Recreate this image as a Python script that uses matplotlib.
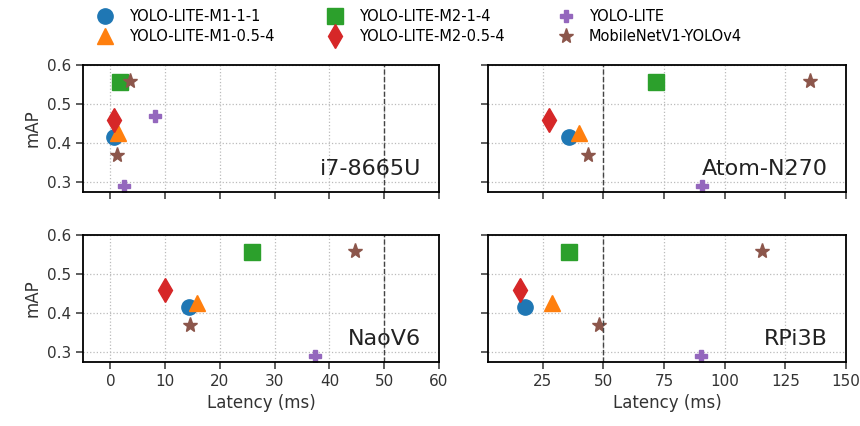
import numpy as np
import matplotlib
matplotlib.use("Agg")
import matplotlib.pyplot as plt

# -----------------------
# Data (latency in ms, mAP)
# -----------------------
models = ["YOLO-LITE-M1-1-1", "YOLO-LITE-M1-0.5-4", "YOLO-LITE-M2-1-4",
          "YOLO-LITE-M2-0.5-4", "YOLO-LITE", "MobileNetV1-YOLOv4"]
markers = ["o", "^", "s", "d", "P", "*"]
colors = ["#1f77b4", "#ff7f0e", "#2ca02c", "#d62728", "#9467bd", "#8c564b"]
sizes = [11, 11, 11.5, 12, 8.5, 11]

# mAP per model (YOLO-LITE and MobileNet have two points)
map_m1_1_1 = [0.417]
map_m1_05_4 = [0.425]
map_m2_1_4 = [0.557]
map_m2_05_4 = [0.46]
map_yolo_lite = [0.47, 0.29]
map_mobilenet = [0.56, 0.37]
maps = [map_m1_1_1, map_m1_05_4, map_m2_1_4, map_m2_05_4, map_yolo_lite, map_mobilenet]

devices = ["i7-8665U", "Atom-N270", "NaoV6", "RPi3B"]
lat_i7 = [[0.6], [1.3], [1.8], [0.7], [8.1, 2.4], [3.6, 1.2]]
lat_atom = [[35.7], [39.8], [71.9], [27.5], [np.nan, 90.8], [135.3, 43.7]]
lat_nao = [[14.4], [15.8], [25.9], [9.9], [np.nan, 37.3], [44.7, 14.5]]
lat_rpi = [[17.6], [28.8], [35.9], [15.7], [np.nan, 90.3], [115.4, 48.2]]
latencies = [lat_i7, lat_atom, lat_nao, lat_rpi]

fig = plt.figure(figsize=(8.6, 4.26), dpi=100)
W, H = 860, 426
def axrect(x0, y0, x1, y1):
    return [x0 / W, 1 - y1 / H, (x1 - x0) / W, (y1 - y0) / H]

ax_i7 = fig.add_axes(axrect(83, 65, 439, 192))
ax_atom = fig.add_axes(axrect(488, 65, 846, 192), sharey=ax_i7)
ax_nao = fig.add_axes(axrect(83, 235, 439, 362), sharex=ax_i7, sharey=ax_i7)
ax_rpi = fig.add_axes(axrect(488, 235, 846, 362), sharex=ax_atom, sharey=ax_i7)
axes = [ax_i7, ax_atom, ax_nao, ax_rpi]

handles = []
for ax, dev, lat in zip(axes, devices, latencies):
    ax.grid(True, linestyle=":", color="#bbbbbb", linewidth=0.9)
    ax.set_axisbelow(True)
    for k in range(len(models)):
        h, = ax.plot(lat[k], maps[k][:len(lat[k])], linestyle="none",
                     marker=markers[k], color=colors[k], markersize=sizes[k],
                     label=models[k])
        if ax is ax_i7:
            handles.append(h)
    ax.axvline(50, color="#444444", linestyle="--", linewidth=1.0)
    ax.text(0.95, 0.1, dev, transform=ax.transAxes, ha="right", va="bottom",
            fontsize=16, color="#222222")
    ax.tick_params(direction="out", length=5, width=1.1, labelsize=11,
                   colors="#333333")
    for s in ax.spines.values():
        s.set_linewidth(1.3)

ax_i7.set_ylim(0.275, 0.6)
ax_i7.set_yticks([0.3, 0.4, 0.5, 0.6])
ax_i7.set_xlim(-5, 60)
ax_i7.set_xticks(np.arange(0, 61, 10))
ax_atom.set_xlim(2.5, 150)
ax_atom.set_xticks([25, 50, 75, 100, 125, 150])

ax_i7.tick_params(labelbottom=False)
ax_atom.tick_params(labelbottom=False, labelleft=False)
ax_rpi.tick_params(labelleft=False)

ax_i7.set_ylabel("mAP", fontsize=12, color="#333333")
ax_nao.set_ylabel("mAP", fontsize=12, color="#333333")
ax_nao.set_xlabel("Latency (ms)", fontsize=12, color="#333333")
ax_rpi.set_xlabel("Latency (ms)", fontsize=12, color="#333333")

fig.legend(handles=handles, loc="upper left", bbox_to_anchor=(82 / W, 1.0),
           ncol=3, frameon=False, fontsize=10.5, handletextpad=0.6,
           columnspacing=3.2, labelspacing=0.35, borderaxespad=0.2)

fig.savefig("out.png", dpi=100)
